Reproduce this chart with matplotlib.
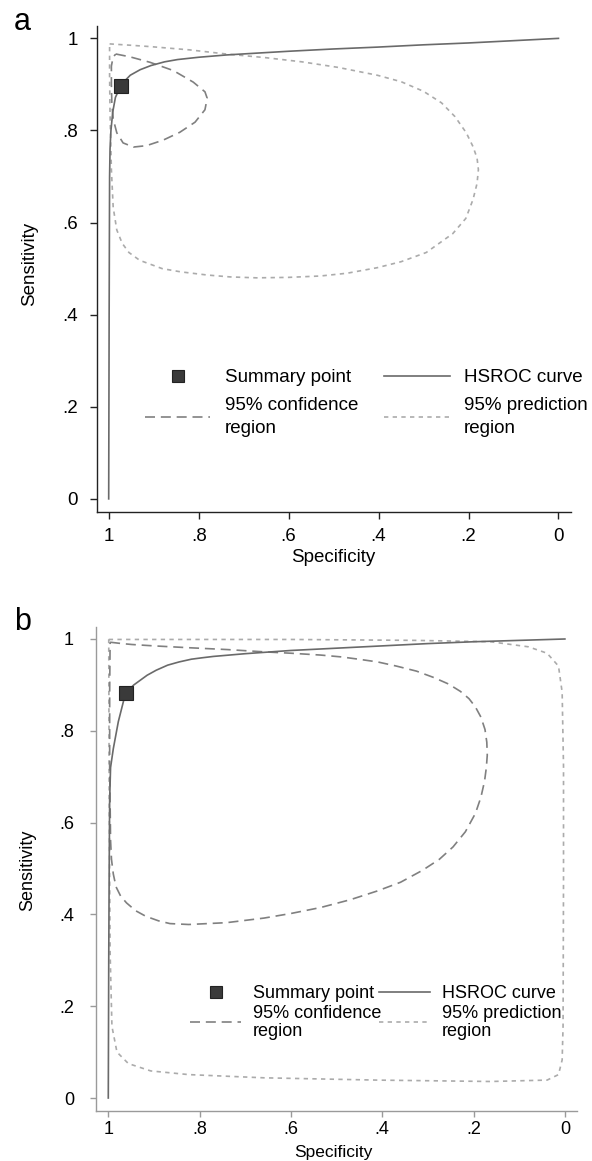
import matplotlib
matplotlib.use("Agg")
import matplotlib.pyplot as plt

plt.rcParams['font.family'] = ['Liberation Sans', 'DejaVu Sans']

# ---------------- Panel a data (specificity, sensitivity) ----------------
a_summary_spec = [0.973]
a_summary_sens = [0.897]

a_hsroc_spec = [1.000, 0.999, 0.998, 0.997, 0.995, 0.991, 0.985, 0.973, 0.962, 0.952,
                0.930, 0.906, 0.876, 0.847, 0.800, 0.738, 0.670, 0.600, 0.500, 0.403,
                0.300, 0.201, 0.100, 0.000]
a_hsroc_sens = [0.000, 0.400, 0.700, 0.760, 0.800, 0.840, 0.872, 0.897, 0.910, 0.920,
                0.932, 0.941, 0.949, 0.954, 0.959, 0.964, 0.968, 0.972, 0.977, 0.981,
                0.986, 0.990, 0.995, 1.000]

a_conf_spec = [0.984, 0.953, 0.908, 0.856, 0.812, 0.786, 0.781, 0.786, 0.808, 0.842,
               0.879, 0.916, 0.945, 0.968, 0.982, 0.990, 0.993, 0.994, 0.994, 0.990, 0.984]
a_conf_sens = [0.966, 0.960, 0.948, 0.930, 0.905, 0.884, 0.870, 0.845, 0.818, 0.796,
               0.779, 0.767, 0.764, 0.773, 0.795, 0.825, 0.860, 0.900, 0.940, 0.960, 0.966]

a_pred_spec = [0.998, 0.950, 0.906, 0.820, 0.738, 0.650, 0.570, 0.490, 0.403, 0.350,
               0.300, 0.260, 0.230, 0.205, 0.190, 0.181, 0.178, 0.181, 0.190, 0.206,
               0.235, 0.294, 0.350, 0.403, 0.470, 0.529, 0.600, 0.671, 0.730, 0.780,
               0.840, 0.881, 0.931, 0.955, 0.970, 0.982, 0.990, 0.994, 0.997, 0.998, 0.998]
a_pred_sens = [0.988, 0.985, 0.982, 0.975, 0.966, 0.958, 0.949, 0.937, 0.920, 0.906,
               0.885, 0.860, 0.830, 0.795, 0.765, 0.740, 0.715, 0.685, 0.650, 0.609,
               0.576, 0.535, 0.515, 0.502, 0.490, 0.484, 0.481, 0.480, 0.482, 0.486,
               0.493, 0.500, 0.518, 0.535, 0.555, 0.584, 0.633, 0.715, 0.838, 0.920, 0.988]

# ---------------- Panel b data ----------------
b_summary_spec = [0.962]
b_summary_sens = [0.883]

b_hsroc_spec = [1.000, 0.999, 0.998, 0.997, 0.995, 0.989, 0.978, 0.962, 0.944, 0.915,
                0.895, 0.870, 0.845, 0.818, 0.795, 0.770, 0.700, 0.600, 0.500, 0.400,
                0.300, 0.200, 0.100, 0.000]
b_hsroc_sens = [0.000, 0.300, 0.500, 0.650, 0.720, 0.761, 0.820, 0.883, 0.900, 0.921,
                0.932, 0.943, 0.950, 0.956, 0.959, 0.962, 0.968, 0.975, 0.980, 0.985,
                0.990, 0.994, 0.997, 1.000]

b_conf_spec = [0.996, 0.970, 0.948, 0.900, 0.824, 0.740, 0.659, 0.600, 0.535, 0.490,
               0.452, 0.410, 0.369, 0.325, 0.287, 0.255, 0.229, 0.210, 0.196, 0.184,
               0.175, 0.171, 0.170, 0.172, 0.176, 0.184, 0.196, 0.218, 0.245, 0.275,
               0.312, 0.360, 0.411, 0.470, 0.535, 0.600, 0.659, 0.741, 0.824, 0.865,
               0.890, 0.918, 0.940, 0.960, 0.973, 0.983, 0.989, 0.993, 0.995, 0.997,
               0.997, 0.996]
b_conf_sens = [0.993, 0.990, 0.988, 0.985, 0.981, 0.977, 0.972, 0.969, 0.965, 0.961,
               0.956, 0.950, 0.941, 0.930, 0.916, 0.902, 0.886, 0.870, 0.852, 0.830,
               0.803, 0.775, 0.747, 0.720, 0.690, 0.655, 0.620, 0.580, 0.547, 0.520,
               0.496, 0.470, 0.451, 0.432, 0.415, 0.402, 0.392, 0.382, 0.378, 0.380,
               0.386, 0.396, 0.408, 0.425, 0.440, 0.460, 0.488, 0.520, 0.561, 0.722,
               0.884, 0.993]

b_pred_spec = [0.999, 0.600, 0.328, 0.163, 0.080, 0.039, 0.014, 0.006, 0.003, 0.003,
               0.004, 0.006, 0.014, 0.039, 0.163, 0.411, 0.659, 0.824, 0.907, 0.956,
               0.981, 0.992, 0.996, 0.998, 0.999]
b_pred_sens = [0.999, 0.999, 0.997, 0.994, 0.983, 0.969, 0.941, 0.884, 0.722, 0.480,
               0.156, 0.083, 0.051, 0.039, 0.036, 0.039, 0.044, 0.051, 0.059, 0.075,
               0.100, 0.156, 0.318, 0.642, 0.999]

tick_vals = [1, 0.8, 0.6, 0.4, 0.2, 0]
tick_labels = ["1", ".8", ".6", ".4", ".2", "0"]
ytick_vals = [0, 0.2, 0.4, 0.6, 0.8, 1]
ytick_labels = ["0", ".2", ".4", ".6", ".8", "1"]

W, H = 592, 1161
fig = plt.figure(figsize=(W / 100, H / 100), dpi=100)

HS_COL = '#6a6a6a'
CONF_COL = '#808080'
PRED_COL = '#ababab'
SQ_COL = '#3a3a3a'


def make_panel(rect, xlim, ylim, spine_col, data, fs, leg_cfg):
    ax = fig.add_axes(rect)
    (sps, sse, hsp, hse, csp, cse, psp, pse) = data
    l_pred, = ax.plot(psp, pse, color=PRED_COL, lw=1.2, dashes=(2.6, 2.6),
                      label="95% prediction\nregion")
    l_conf, = ax.plot(csp, cse, color=CONF_COL, lw=1.2, dashes=(6, 3.5),
                      label="95% confidence\nregion")
    l_hs, = ax.plot(hsp, hse, color=HS_COL, lw=1.2, label="HSROC curve")
    l_sum, = ax.plot(sps, sse, linestyle='none', marker='s', markersize=10,
                     markerfacecolor=SQ_COL, markeredgecolor='#222222',
                     markeredgewidth=0.8, label="Summary point", zorder=5)
    ax.set_xlim(*xlim)
    ax.set_ylim(*ylim)
    for s in ['top', 'right']:
        ax.spines[s].set_visible(False)
    for s in ['left', 'bottom']:
        ax.spines[s].set_color(spine_col)
        ax.spines[s].set_linewidth(1.0)
    ax.set_xticks(tick_vals)
    ax.set_xticklabels(tick_labels)
    ax.set_yticks(ytick_vals)
    ax.set_yticklabels(ytick_labels)
    ax.tick_params(axis='both', direction='out', length=leg_cfg['tl'], width=1.0,
                   color=spine_col, labelsize=fs, labelcolor='black')
    ax.tick_params(axis='y', pad=leg_cfg['ypad'])
    ax.tick_params(axis='x', pad=leg_cfg['xpad'])
    leg = ax.legend([l_sum, l_conf, l_hs, l_pred],
                    ["Summary point", "95% confidence\nregion", "HSROC curve",
                     "95% prediction\nregion"],
                    ncol=2, loc='upper left', bbox_to_anchor=leg_cfg['anchor'],
                    frameon=False, fontsize=fs, borderpad=0, borderaxespad=0,
                    handlelength=leg_cfg['hl'], handletextpad=leg_cfg['htp'],
                    columnspacing=leg_cfg['cs'], labelspacing=leg_cfg['ls'],
                    numpoints=1, markerscale=0.85)
    for t in leg.get_texts():
        t.set_linespacing(leg_cfg['lsp'])
    return ax


def px_rect(left, top, right, bottom):
    return [left / W, 1 - bottom / H, (right - left) / W, (bottom - top) / H]


# Panel a
ax_a = make_panel(px_rect(97, 26.4, 570.6, 512), (1.026, -0.027), (-0.0285, 1.026),
                  '#222222',
                  (a_summary_spec, a_summary_sens, a_hsroc_spec, a_hsroc_sens,
                   a_conf_spec, a_conf_sens, a_pred_spec, a_pred_sens), 13.5,
                  dict(anchor=(0.101, 0.294), hl=3.5, htp=0.75, cs=1.4, ls=0.58,
                       lsp=1.45, ypad=9, xpad=6.5, tl=5))

# Panel b
ax_b = make_panel(px_rect(95.5, 627.2, 577.4, 1111), (1.028, -0.0274), (-0.0283, 1.0257),
                  '#9a9a9a',
                  (b_summary_spec, b_summary_sens, b_hsroc_spec, b_hsroc_sens,
                   b_conf_spec, b_conf_sens, b_pred_spec, b_pred_sens), 13,
                  dict(anchor=(0.197, 0.26), hl=2.8, htp=0.65, cs=-0.1, ls=0.15,
                       lsp=1.05, ypad=11, xpad=2.5, tl=4.5))

# Axis titles
fig.text(30 / W, 1 - 264 / H, "Sensitivity", rotation=90, ha='center', va='center',
         fontsize=13.5)
fig.text(333 / W, 1 - 557 / H, "Specificity", ha='center', va='center', fontsize=13.5)
fig.text(28 / W, 1 - 870 / H, "Sensitivity", rotation=90, ha='center', va='center',
         fontsize=13)
fig.text(333 / W, 0.5 / H, "Specificity", ha='center', va='bottom', fontsize=12.5)

# Panel letters
fig.text(14 / W, 1 - 30 / H, "a", fontsize=22, ha='left', va='baseline')
fig.text(14 / W, 1 - 630 / H, "b", fontsize=22, ha='left', va='baseline')

fig.savefig("out.png", dpi=100)
